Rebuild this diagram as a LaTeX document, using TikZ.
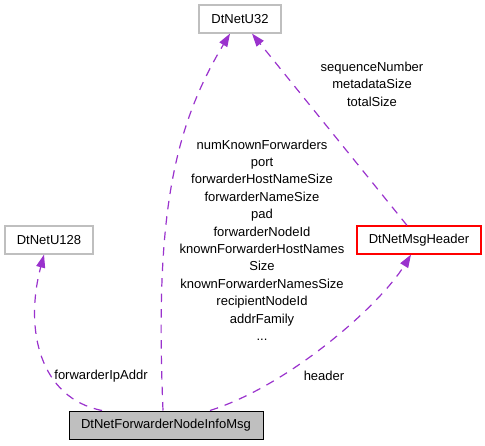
\documentclass[tikz,border=0pt]{standalone}
\usepackage{fontspec}
\setmainfont{Liberation Sans}
\usetikzlibrary{arrows.meta}
\definecolor{edgecol}{HTML}{9A32CD}
\definecolor{boxgray}{HTML}{BFBFBF}
\definecolor{hdrred}{HTML}{FF0000}
\begin{document}
\begin{tikzpicture}[x=1pt,y=-1pt,
  every node/.style={font=\fontsize{13}{17.4}\selectfont, inner sep=0pt},
  cls/.style={draw=boxgray, line width=1.2pt, minimum height=28pt},
  mainbox/.style={draw=black, fill=boxgray, line width=1pt, minimum height=28pt},
  hdrbox/.style={draw=hdrred, line width=1.2pt, minimum height=28pt},
  edge/.style={draw=edgecol, line width=1.2pt, dash pattern=on 8.5pt off 7pt,
    -{Triangle[length=13pt,width=9pt,fill=edgecol,sep=0pt]}},
  lbl/.style={align=center}]
\useasboundingbox (0,0) rectangle (485,445);
\node[mainbox, minimum width=194pt] (main) at (166,425) {DtNetForwarderNodeInfoMsg};
\node[cls, minimum width=82pt] (u32) at (240,19) {DtNetU32};
\node[cls, minimum width=88pt] (u128) at (49,240) {DtNetU128};
\node[hdrbox, minimum width=124pt] (hdr) at (419,240) {DtNetMsgHeader};
% edges
\draw[edge] ([xshift=-3pt]main.north) .. controls (155,220) and (172,130) .. ([xshift=-10pt]u32.south);
\draw[edge] ([xshift=-12pt]hdr.north) -- ([xshift=12pt]u32.south);
\draw[edge] ([xshift=44pt]main.north) .. controls (290,385) and (380,305) .. ([xshift=-8pt]hdr.south);
\draw[edge] ([xshift=-64pt]main.north) .. controls (40,398) and (24,330) .. ([xshift=-5pt]u128.south);
% labels
\node[lbl] (lblu32) at (372,84) {sequenceNumber\\metadataSize\\totalSize};
\node[lbl] (lblmain) at (262,240) {numKnownForwarders\\port\\forwarderHostNameSize\\forwarderNameSize\\pad\\forwarderNodeId\\knownForwarderHostNames\\Size\\knownForwarderNamesSize\\recipientNodeId\\addrFamily\\...};
\node (lblip) at (101,376) {forwarderIpAddr};
\node (lblhdr) at (324,376) {header};
\end{tikzpicture}
\end{document}
